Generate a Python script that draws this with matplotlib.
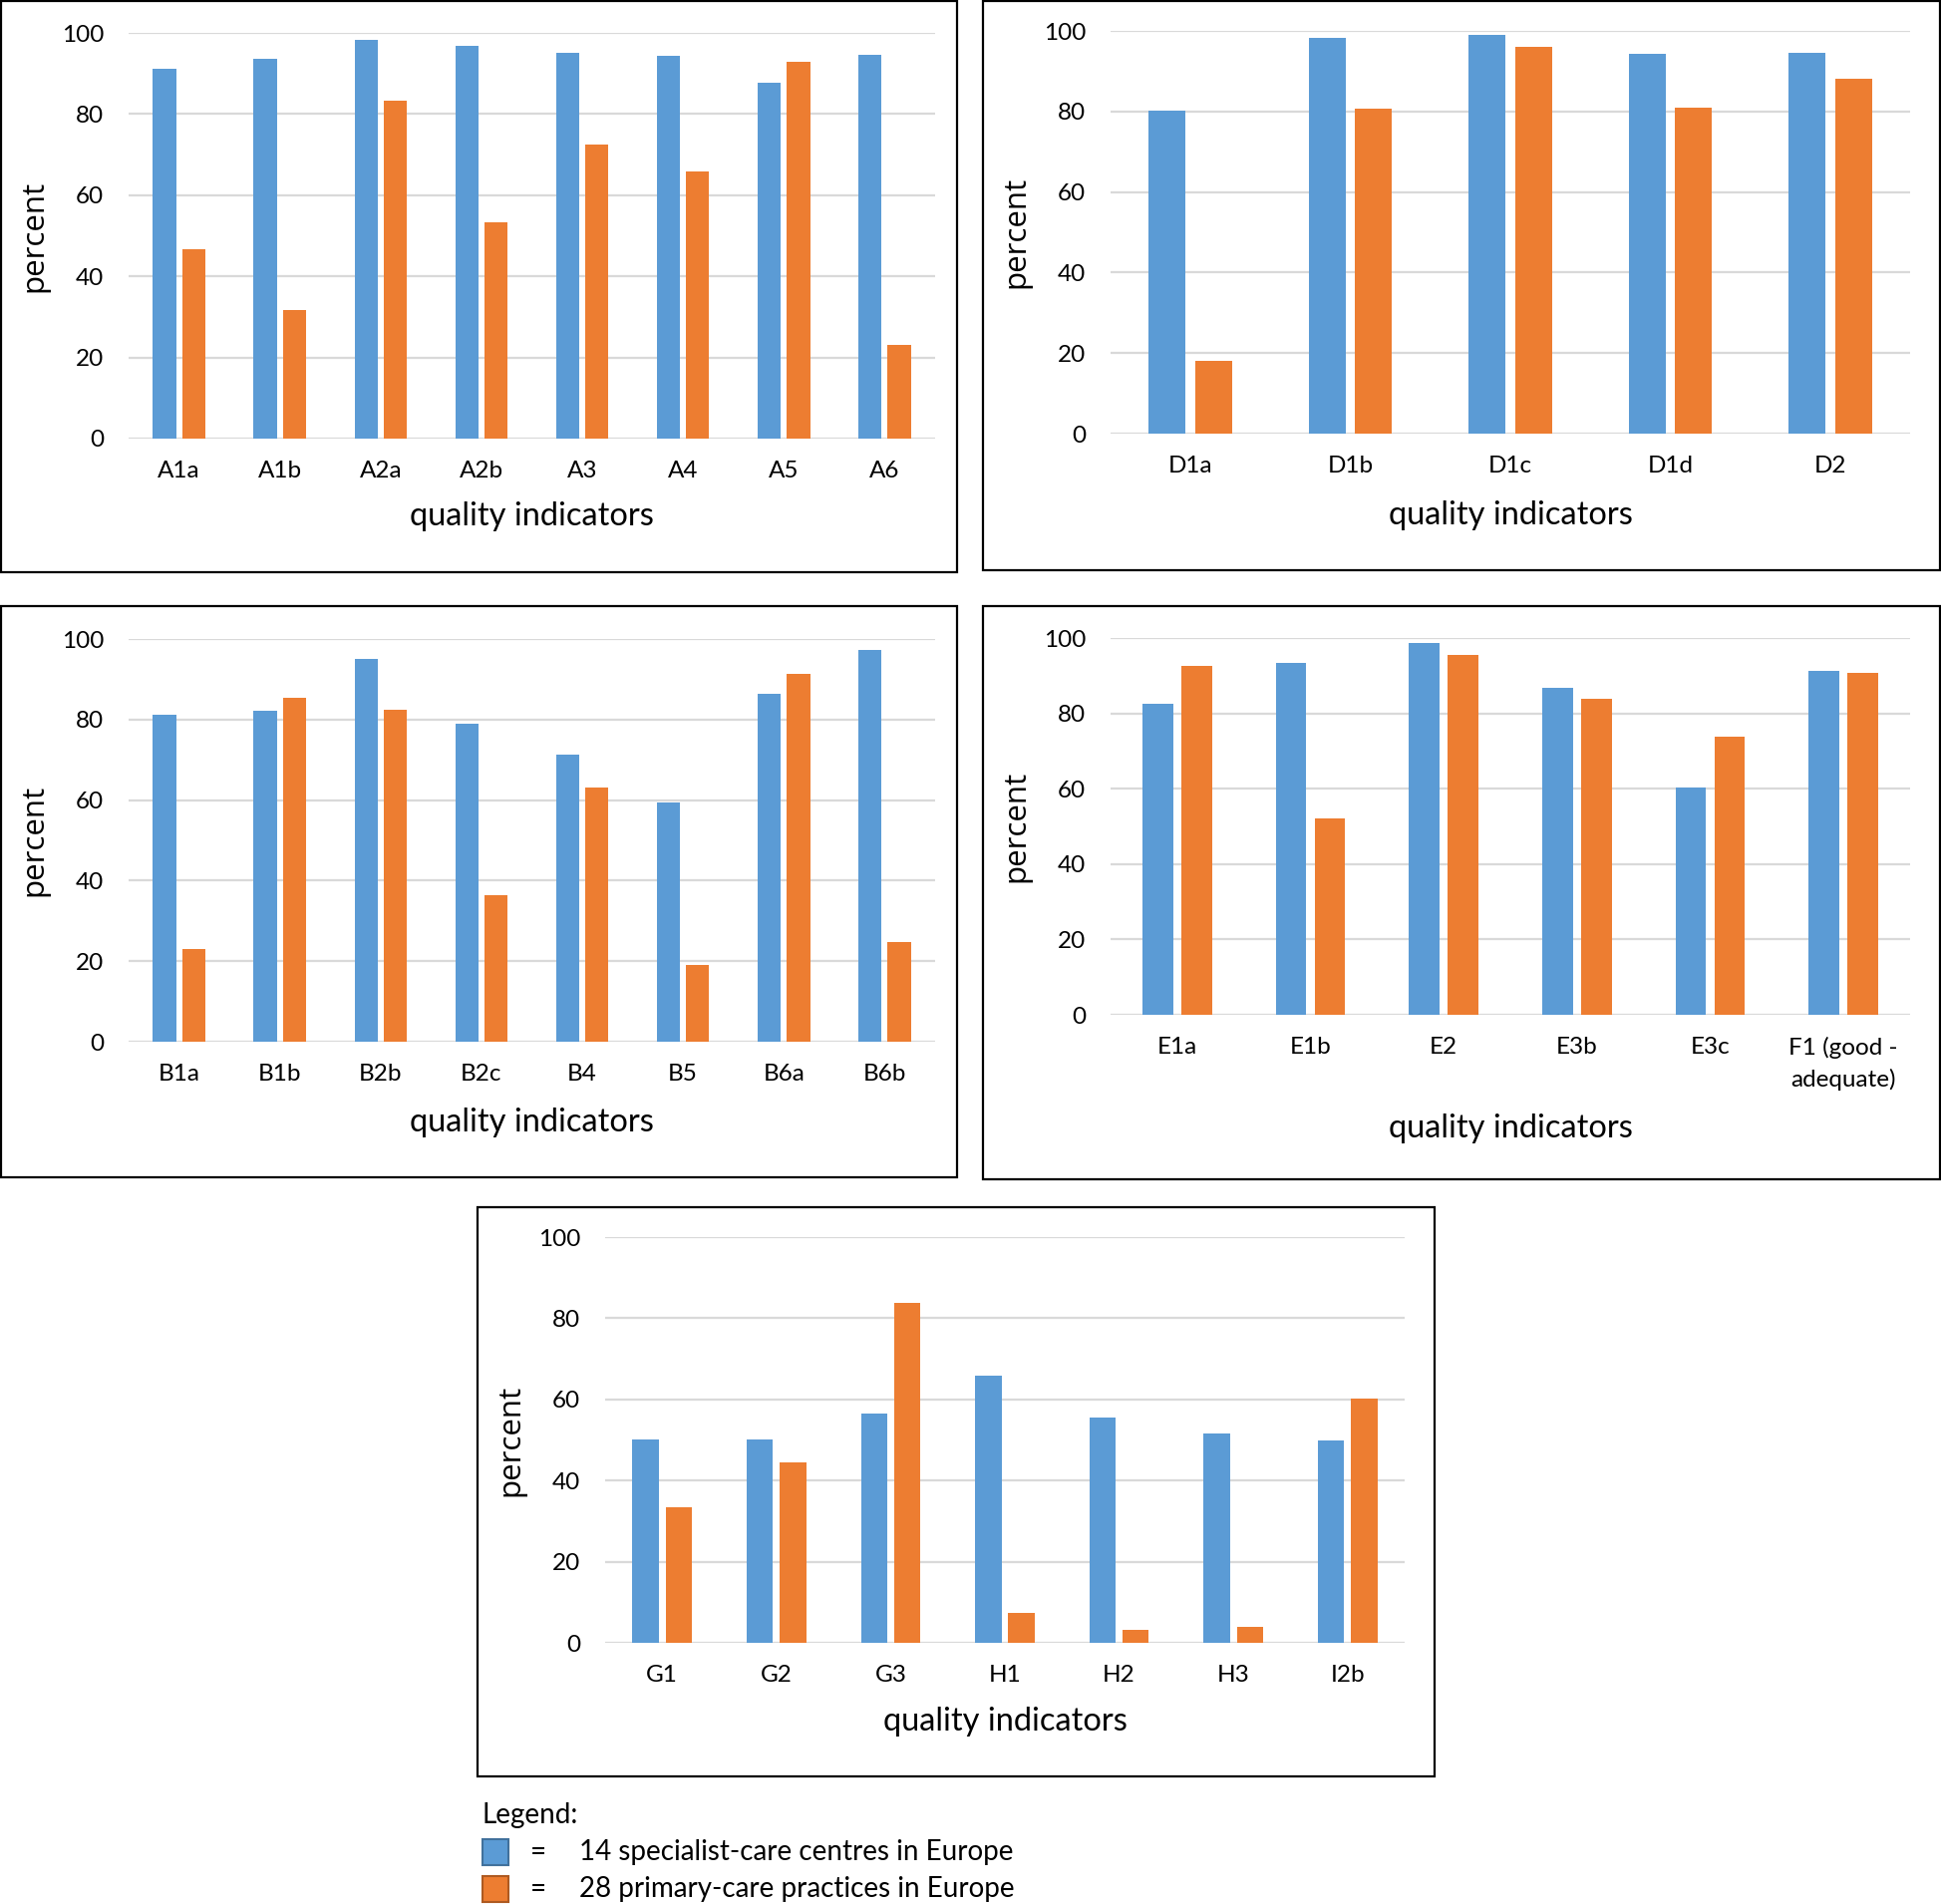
import numpy as np
import matplotlib.pyplot as plt
from matplotlib.patches import Rectangle

plt.rcParams['font.family'] = ['Lato', 'DejaVu Sans']

W, H = 1947, 1910
BLUE = '#5B9BD5'
ORANGE = '#ED7D31'
GRID = '#D9D9D9'

# panel data
a_labels = ["A1a", "A1b", "A2a", "A2b", "A3", "A4", "A5", "A6"]
a_special = [91.2, 93.7, 98.2, 96.7, 95.2, 94.4, 87.8, 94.6]
a_primary = [46.8, 31.7, 83.2, 53.4, 72.4, 65.8, 92.9, 23.2]

d_labels = ["D1a", "D1b", "D1c", "D1d", "D2"]
d_special = [80.3, 98.2, 99.1, 94.3, 94.6]
d_primary = [18.1, 80.7, 96.1, 81.0, 88.2]

b_labels = ["B1a", "B1b", "B2b", "B2c", "B4", "B5", "B6a", "B6b"]
b_special = [81.2, 82.2, 95.1, 79.0, 71.3, 59.4, 86.3, 97.3]
b_primary = [23.0, 85.5, 82.5, 36.4, 63.1, 19.1, 91.3, 24.8]

e_labels = ["E1a", "E1b", "E2", "E3b", "E3c", "F1 (good -\nadequate)"]
e_special = [82.6, 93.5, 98.8, 86.8, 60.4, 91.3]
e_primary = [92.7, 52.1, 95.5, 83.9, 73.7, 90.7]

g_labels = ["G1", "G2", "G3", "H1", "H2", "H3", "I2b"]
g_special = [50.1, 50.1, 56.4, 65.8, 55.6, 51.7, 50.0]
g_primary = [33.4, 44.5, 83.7, 7.4, 3.1, 4.0, 60.1]

legend_labels = ["14 specialist-care centres in Europe",
                 "28 primary-care practices in Europe"]

fig = plt.figure(figsize=(W / 100, H / 100), dpi=100)


def box(x0, y0, x1, y1):
    # frame around a panel, pixel coords (top-left origin)
    fig.patches.append(Rectangle((x0 / W, 1 - y1 / H), (x1 - x0) / W, (y1 - y0) / H,
                                 transform=fig.transFigure, fill=False,
                                 edgecolor='black', linewidth=1.6))


def panel(labels, special, primary, x0, y0, x1, y1, xlab_off):
    ax = fig.add_axes([x0 / W, 1 - y1 / H, (x1 - x0) / W, (y1 - y0) / H])
    x = np.arange(len(labels))
    w = 0.23
    ax.bar(x - 0.145, special, w, color=BLUE, zorder=3)
    ax.bar(x + 0.145, primary, w, color=ORANGE, zorder=3)
    ax.set_xlim(-0.5, len(labels) - 0.5)
    ax.set_ylim(0, 100)
    ax.set_yticks(range(0, 101, 20))
    ax.set_xticks(x)
    ax.set_xticklabels(labels, fontsize=17.5, linespacing=1.55)
    ax.tick_params(axis='x', length=0, pad=16)
    ax.tick_params(axis='y', length=0, pad=18, labelsize=17.5)
    for s in ax.spines.values():
        s.set_visible(False)
    ax.grid(axis='y', color=GRID, linewidth=1.6, zorder=0)
    ax.set_axisbelow(True)
    ax.set_ylabel("percent", fontsize=22.5, family=['Open Sans', 'DejaVu Sans'])
    ax.yaxis.set_label_coords(-80 / (x1 - x0), 0.5)
    ax.set_xlabel("quality indicators", fontsize=23.5)
    ax.xaxis.set_label_coords(0.5, -xlab_off / (y1 - y0))
    return ax


box(1, 1, 960, 574)
panel(a_labels, a_special, a_primary, 129, 33, 938, 440, 63)

box(986, 1, 1946, 572)
panel(d_labels, d_special, d_primary, 1114, 31, 1916, 435, 67)

box(1, 608, 960, 1181)
panel(b_labels, b_special, b_primary, 129, 641, 938, 1045, 66)

box(986, 608, 1946, 1183)
panel(e_labels, e_special, e_primary, 1114, 640, 1916, 1018, 99)

box(479, 1211, 1439, 1782)
panel(g_labels, g_special, g_primary, 607, 1241, 1409, 1648, 64)

# legend
fig.text(484 / W, 1 - 1821 / H, "Legend:", fontsize=20, va='center', ha='left')
for i, (lab, col, ec) in enumerate(zip(legend_labels, [BLUE, ORANGE],
                                       ['#41719C', '#AE5A21'])):
    yc = 1858 + i * 37
    fig.patches.append(Rectangle((484 / W, 1 - (yc + 13) / H), 26 / W, 26 / H,
                                 transform=fig.transFigure, facecolor=col,
                                 edgecolor=ec, linewidth=1.5))
    fig.text(540 / W, 1 - yc / H, "=", fontsize=20, va='center', ha='center')
    fig.text(581 / W, 1 - yc / H, lab, fontsize=20, va='center', ha='left')

fig.savefig("out.png", dpi=100, facecolor='white')
